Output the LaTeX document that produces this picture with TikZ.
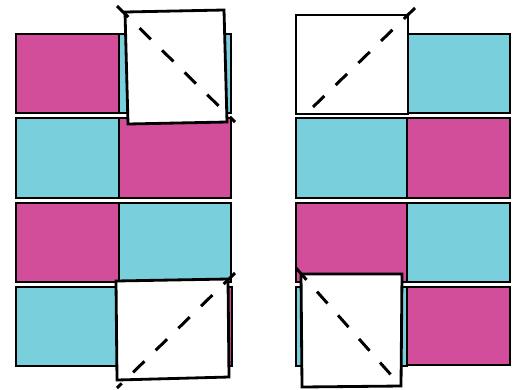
\documentclass[tikz,border=0pt]{standalone}
\usepackage{xcolor}
\usepackage{tikz}
\definecolor{tilem}{RGB}{210,78,154}
\definecolor{tilec}{RGB}{121,207,219}

\begin{document}
\begin{tikzpicture}[x=0.02cm, y=-0.02cm,
  tile/.style={draw=black, line width=1.6pt},
  flap/.style={draw=black, line width=1.6pt, fill=white},
  fold/.style={black, line width=1.7pt, dash pattern=on 9pt off 9pt}
]
  \useasboundingbox (0,0) rectangle (519,389);
  % left grid
  \draw[tile, fill=tilem] (16,34) rectangle (119,113);
  \draw[tile, fill=tilec] (119,34) rectangle (231,113);
  \draw[tile, fill=tilec] (16,118) rectangle (119,198);
  \draw[tile, fill=tilem] (119,118) rectangle (231,198);
  \draw[tile, fill=tilem] (16,203) rectangle (119,282);
  \draw[tile, fill=tilec] (119,203) rectangle (231,282);
  \draw[tile, fill=tilec] (16,287) rectangle (119,366);
  \draw[tile, fill=tilem] (119,287) rectangle (232,366);
  % left flaps
  \draw[flap] (125,12) -- (224,10) -- (227,122) -- (128,124) -- cycle;
  \draw[fold] (117,6) -- (235,122);
  \draw[flap] (116,281) -- (228,279) -- (229,377) -- (117,380) -- cycle;
  \draw[fold] (235,273) -- (117,388);
  % right grid
  \draw[tile, fill=tilec] (408,34) rectangle (510,113);
  \draw[tile, fill=tilec] (296,118) rectangle (407,198);
  \draw[tile, fill=tilem] (407,118) rectangle (510,198);
  \draw[tile, fill=tilem] (296,203) rectangle (407,282);
  \draw[tile, fill=tilec] (407,203) rectangle (510,282);
  \draw[tile, fill=tilec] (296,287) rectangle (407,366);
  \draw[tile, fill=tilem] (407,287) rectangle (510,365);
  % right flaps
  \draw[flap] (296,15) rectangle (408,114);
  \draw[fold] (313,107) -- (415,8);
  \draw[flap] (301,274) -- (402,274) -- (401,386) -- (302,387) -- cycle;
  \draw[fold] (296,268) -- (400,385);
\end{tikzpicture}
\end{document}
